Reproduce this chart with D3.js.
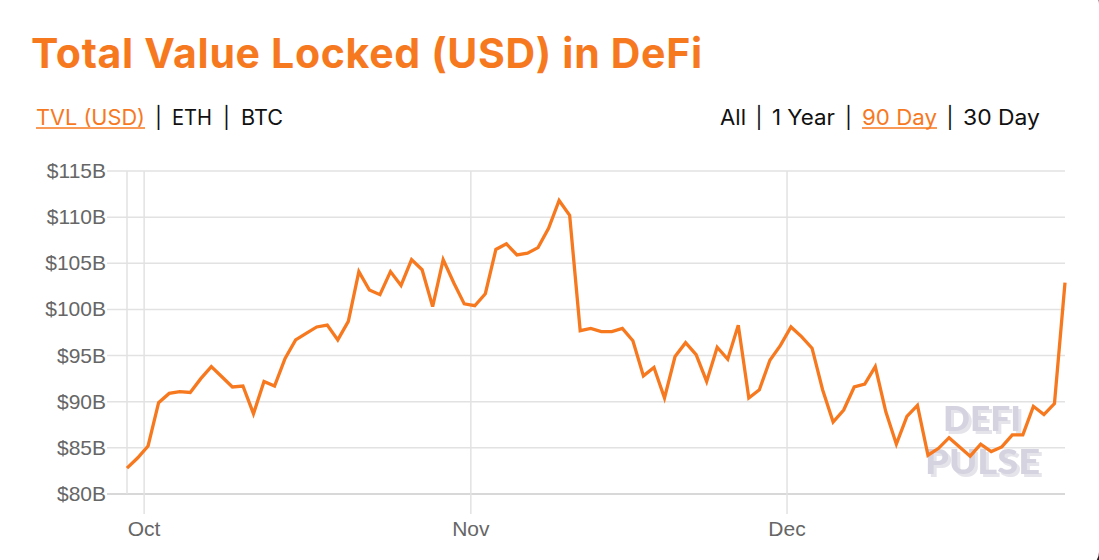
<!DOCTYPE html>
<html>
<head>
<meta charset="utf-8">
<script src="https://cdn.jsdelivr.net/npm/d3@7"></script>
<style>
  html, body { margin: 0; padding: 0; background: #fff; }
  svg { display: block; }
</style>
</head>
<body>
<svg id="chart" width="1099" height="560"></svg>
<script>
// ---- data ----
const startDate = "2021-09-29T09:00:00";
const tvlValues = [
  82.8, 83.9, 85.2, 89.9, 90.9, 91.1, 91.0, 92.5, 93.8, 92.7,
  91.6, 91.7, 88.7, 92.2, 91.7, 94.7, 96.7, 97.4, 98.1, 98.3,
  96.7, 98.7, 104.1, 102.1, 101.6, 104.1, 102.6, 105.4, 104.3, 100.3,
  105.4, 102.9, 100.6, 100.4, 101.7, 106.5, 107.1, 105.9, 106.1, 106.7,
  108.8, 111.8, 110.2, 97.7, 97.95, 97.6, 97.6, 97.95, 96.6, 92.8,
  93.7, 90.4, 94.9, 96.4, 95.1, 92.2, 95.9, 94.6, 98.3, 90.4,
  91.3, 94.5, 96.1, 98.1, 97.05, 95.8, 91.3, 87.8, 89.1, 91.6,
  91.9, 93.8, 88.9, 85.4, 88.4, 89.6, 84.2, 84.95, 86.1, 85.1,
  84.1, 85.4, 84.6, 85.1, 86.4, 86.4, 89.5, 88.6, 89.8, 102.9
];
const yTicks = [80, 85, 90, 95, 100, 105, 110, 115];
const assetTabs = ["TVL (USD)", "ETH", "BTC"];
const rangeTabs = ["All", "1 Year", "90 Day", "30 Day"];
const activeAsset = "TVL (USD)";
const activeRange = "90 Day";
const titleText = "Total Value Locked (USD) in DeFi";
const watermarkLines = ["DEFI", "PULSE"];

const t0 = new Date(startDate);
const data = tvlValues.map((v, i) => ({ date: d3.timeDay.offset(t0, i), value: v }));

// ---- styles ----
const ORANGE = "#f7791f";
const GRID = "#e2e2e2";
const svg = d3.select("#chart");

const defs = svg.append("defs");
const f = defs.append("filter").attr("id", "wmShadow")
  .attr("x", "-10%").attr("y", "-10%").attr("width", "130%").attr("height", "130%");
f.append("feOffset").attr("in", "SourceAlpha").attr("dx", 3).attr("dy", 3).attr("result", "off");
f.append("feFlood").attr("flood-color", "#e4e4ea").attr("result", "fl");
f.append("feComposite").attr("in", "fl").attr("in2", "off").attr("operator", "in").attr("result", "sh");
const fm = f.append("feMerge");
fm.append("feMergeNode").attr("in", "sh");
fm.append("feMergeNode").attr("in", "SourceGraphic");

const x = d3.scaleTime()
  .domain(d3.extent(data, d => d.date))
  .range([127, 1065]);
const y = d3.scaleLinear().domain([80, 115]).range([494, 171]);

// card border corner hint
svg.append("rect")
  .attr("x", -20).attr("y", -12).attr("width", 1120).attr("height", 580)
  .attr("rx", 16).attr("fill", "none").attr("stroke", "#222").attr("stroke-width", 2);

// title
const title = svg.append("text")
  .attr("x", 31).attr("y", 68)
  .attr("font-family", "Inter, 'Open Sans', sans-serif")
  .attr("font-weight", 700).attr("font-size", 41)
  .attr("fill", ORANGE).text(titleText);
{
  const w = title.node().getComputedTextLength();
  const ls = (671 - w) / (titleText.length - 1);
  title.attr("letter-spacing", ls);
}

// tabs
function drawTab(label, x0, x1, active) {
  svg.append("text")
    .attr("x", x0).attr("y", 125)
    .attr("font-family", "Inter, 'Open Sans', sans-serif")
    .attr("font-size", 21)
    .attr("fill", active ? ORANGE : "#111")
    .attr("textLength", x1 - x0).attr("lengthAdjust", "spacingAndGlyphs")
    .text(label);
  if (active) {
    svg.append("line").attr("x1", x0).attr("x2", x1)
      .attr("y1", 128).attr("y2", 128)
      .attr("stroke", ORANGE).attr("stroke-width", 1.5);
  }
}
function drawSep(xc) {
  svg.append("text").attr("x", xc).attr("y", 125)
    .attr("text-anchor", "middle")
    .attr("font-family", "Inter, 'Open Sans', sans-serif")
    .attr("font-size", 21).attr("fill", "#111").text("|");
}
const assetPos = [[36, 145], [172, 212], [241, 283]];
assetTabs.forEach((l, i) => {
  drawTab(l, assetPos[i][0], assetPos[i][1], l === activeAsset);
  if (i < assetTabs.length - 1) drawSep((assetPos[i][1] + assetPos[i + 1][0]) / 2);
});
const rangePos = [[720, 746], [772, 835], [862, 937], [963, 1040]];
rangeTabs.forEach((l, i) => {
  drawTab(l, rangePos[i][0], rangePos[i][1], l === activeRange);
  if (i < rangeTabs.length - 1) drawSep((rangePos[i][1] + rangePos[i + 1][0]) / 2);
});

// horizontal grid + y labels
const gY = svg.append("g");
gY.selectAll("line").data(yTicks).join("line")
  .attr("x1", 107).attr("x2", 1065)
  .attr("y1", d => y(d)).attr("y2", d => y(d))
  .attr("stroke", d => d === 80 ? "#d8d8d8" : GRID)
  .attr("stroke-width", d => d === 80 ? 2 : 1.5);
gY.selectAll("text").data(yTicks).join("text")
  .attr("x", 106).attr("y", d => y(d) + 7)
  .attr("text-anchor", "end")
  .attr("font-family", "'Liberation Sans', Arial, sans-serif")
  .attr("font-size", 21).attr("fill", "#666")
  .text(d => "$" + d + "B");

// left edge
svg.append("line").attr("x1", 127).attr("x2", 127)
  .attr("y1", y(115)).attr("y2", y(80))
  .attr("stroke", GRID).attr("stroke-width", 1.5);

// vertical month grid + labels
const months = x.ticks(d3.timeMonth.every(1));
const gX = svg.append("g");
gX.selectAll("line").data(months).join("line")
  .attr("x1", d => x(d)).attr("x2", d => x(d))
  .attr("y1", y(115)).attr("y2", 514)
  .attr("stroke", GRID).attr("stroke-width", 1.5);
gX.selectAll("text").data(months).join("text")
  .attr("x", d => x(d)).attr("y", 536)
  .attr("text-anchor", "middle")
  .attr("font-family", "'Liberation Sans', Arial, sans-serif")
  .attr("font-size", 21).attr("fill", "#666")
  .text(d3.timeFormat("%b"));

// watermark
const wmPos = [[943, 1021, 431], [925, 1040, 474]];
watermarkLines.forEach((t, i) => {
  svg.append("text")
    .attr("x", wmPos[i][0]).attr("y", wmPos[i][2])
    .attr("font-family", "Lato, 'DejaVu Sans', sans-serif").attr("font-weight", 900)
    .attr("font-size", 35).attr("fill", "#d5d3df")
    .attr("filter", "url(#wmShadow)")
    .attr("textLength", wmPos[i][1] - wmPos[i][0]).attr("lengthAdjust", "spacingAndGlyphs")
    .text(t);
});

// line
const line = d3.line().x(d => x(d.date)).y(d => y(d.value));
svg.append("path").datum(data)
  .attr("d", line)
  .attr("fill", "none").attr("stroke", ORANGE)
  .attr("stroke-width", 3.3).attr("stroke-linejoin", "miter");
</script>
</body>
</html>
